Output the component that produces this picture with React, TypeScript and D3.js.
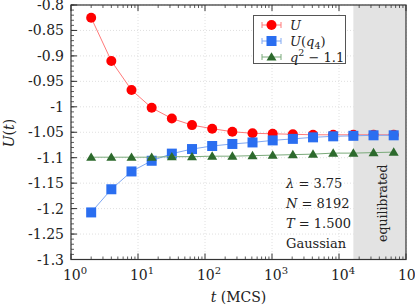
import * as d3 from "d3";

const times = [2, 4, 8, 16, 32, 64, 128, 256, 512, 1024, 2048, 4096, 8192, 16384, 32768, 65536];
const energyU = [-0.825, -0.91, -0.967, -1.002, -1.023, -1.036, -1.043, -1.049, -1.052, -1.053, -1.054, -1.055, -1.055, -1.055, -1.055, -1.055];
const energyQ4 = [-1.2075, -1.162, -1.127, -1.106, -1.092, -1.083, -1.077, -1.073, -1.07, -1.066, -1.063, -1.06, -1.058, -1.057, -1.056, -1.056];
const qSquared = [-1.099, -1.099, -1.099, -1.099, -1.098, -1.098, -1.097, -1.097, -1.096, -1.095, -1.094, -1.093, -1.091, -1.091, -1.09, -1.089];
const yTicks = [-0.8, -0.85, -0.9, -0.95, -1, -1.05, -1.1, -1.15, -1.2, -1.25, -1.3];
const xTicks = [1, 10, 100, 1000, 10000, 100000];
const equilStart = 16384;

const W = 415;
const H = 307;
const left = 71;
const right = 406;
const top = 5;
const bottom = 259.5;

const font = "'DejaVu Serif', serif";

const x = d3.scaleLog().domain([1, 100000]).range([left, right]);
const y = d3.scaleLinear().domain([-1.3, -0.8]).range([bottom, top]);

const RED = "#ff0000";
const BLUE = "#2a6ef0";
const GREEN = "#2d6a2d";

function Marker({ kind, cx, cy }: { kind: string; cx: number; cy: number }) {
  if (kind === "circle") return <circle cx={cx} cy={cy} r={5} fill={RED} />;
  if (kind === "square")
    return <rect x={cx - 5} y={cy - 5} width={10} height={10} fill={BLUE} />;
  return (
    <path
      d={`M${cx},${cy - 4.8}L${cx + 5},${cy + 3.6}L${cx - 5},${cy + 3.6}Z`}
      fill={GREEN}
    />
  );
}

const series = [
  { vals: energyU, kind: "circle", color: RED, line: "#ff7a7a" },
  { vals: energyQ4, kind: "square", color: BLUE, line: "#80a8f2" },
  { vals: qSquared, kind: "triangle", color: GREEN, line: "#7aaa7a" },
];

export default function App() {
  const line = d3
    .line<number>()
    .x((_, i) => x(times[i]))
    .y((d) => y(d));

  const minorX: number[] = [];
  for (let p = 0; p < 5; p++)
    for (let k = 2; k <= 9; k++) minorX.push(k * Math.pow(10, p));
  const minorY = d3.range(-1.3, -0.7999, 0.01);

  return (
    <svg
      width={W}
      height={H}
      style={{ position: "absolute", left: 0, top: 0, fontFamily: font }}
    >
      <rect width={W} height={H} fill="#fff" />
      {/* grid */}
      {yTicks.map((t) => (
        <line key={"gy" + t} x1={left} x2={right} y1={y(t)} y2={y(t)} stroke="#d8d8d8" strokeDasharray="1,2" strokeWidth={0.8} />
      ))}
      {xTicks.map((t) => (
        <line key={"gx" + t} x1={x(t)} x2={x(t)} y1={top} y2={bottom} stroke="#d8d8d8" strokeDasharray="1,2" strokeWidth={0.8} />
      ))}
      {/* equilibrated region */}
      <rect x={x(equilStart)} y={top} width={right - x(equilStart)} height={bottom - top} fill="#e3e3e3" />
      <text
        transform={`translate(${x(equilStart) + 34},${(top + bottom) / 2 + 71}) rotate(-90)`}
        fontSize={12.5}
        textAnchor="middle"
        fill="#222"
      >
        equilibrated
      </text>

      {/* ticks */}
      {minorY.map((t, i) => (
        <line key={"my" + i} x1={left} x2={left + 3} y1={y(t)} y2={y(t)} stroke="#333" strokeWidth={0.8} />
      ))}
      {yTicks.map((t) => (
        <line key={"ty" + t} x1={left} x2={left + 6} y1={y(t)} y2={y(t)} stroke="#333" strokeWidth={1} />
      ))}
      {minorX.map((t) => (
        <g key={"mx" + t}>
          <line x1={x(t)} x2={x(t)} y1={bottom} y2={bottom - 3} stroke="#333" strokeWidth={0.8} />
          <line x1={x(t)} x2={x(t)} y1={top} y2={top + 3} stroke="#333" strokeWidth={0.8} />
        </g>
      ))}
      {xTicks.map((t) => (
        <g key={"tx" + t}>
          <line x1={x(t)} x2={x(t)} y1={bottom} y2={bottom - 6} stroke="#333" strokeWidth={1} />
          <line x1={x(t)} x2={x(t)} y1={top} y2={top + 6} stroke="#333" strokeWidth={1} />
        </g>
      ))}
      <rect x={left} y={top} width={right - left} height={bottom - top} fill="none" stroke="#333" strokeWidth={1.2} />

      {/* tick labels */}
      {yTicks.map((t) => (
        <text key={"ly" + t} x={left - 7} y={y(t) + 5} fontSize={14} textAnchor="end" fill="#222">
          {t === -1 ? "-1" : String(t)}
        </text>
      ))}
      {xTicks.map((t) => (
        <text key={"lx" + t} x={x(t) + 4} y={bottom + 20} fontSize={14} textAnchor="middle" fill="#222">
          10<tspan dy={-6} fontSize={10}>{Math.round(Math.log10(t))}</tspan>
        </text>
      ))}

      {/* axis titles */}
      <text x={(left + right) / 2} y={H - 5} fontSize={14} textAnchor="middle" fill="#222">
        <tspan fontStyle="italic">t</tspan> (MCS)
      </text>
      <text transform={`translate(14,133) rotate(-90)`} fontSize={14} textAnchor="middle" fill="#222">
        <tspan fontStyle="italic">U</tspan>(<tspan fontStyle="italic">t</tspan>)
      </text>

      {/* series */}
      {series.map((s) => (
        <g key={s.kind}>
          <path d={line(s.vals) ?? ""} fill="none" stroke={s.line} strokeWidth={1} />
          {s.vals.map((v, i) => (
            <Marker key={i} kind={s.kind} cx={x(times[i])} cy={y(v)} />
          ))}
        </g>
      ))}

      {/* legend */}
      <rect x={253.5} y={15.5} width={92} height={48} fill="#fff" stroke="#555" strokeWidth={1} />
      {series.map((s, i) => {
        const ly = 25 + i * 16;
        return (
          <g key={"lg" + s.kind}>
            <line x1={262} x2={281} y1={ly} y2={ly} stroke={s.line} strokeWidth={1} />
            <line x1={262} x2={262} y1={ly - 3} y2={ly + 3} stroke={s.line} strokeWidth={1} />
            <line x1={281} x2={281} y1={ly - 3} y2={ly + 3} stroke={s.line} strokeWidth={1} />
            <Marker kind={s.kind} cx={271.5} cy={ly} />
          </g>
        );
      })}
      <text x={290} y={30} fontSize={13} fill="#222">
        <tspan fontStyle="italic">U</tspan>
      </text>
      <text x={290} y={46} fontSize={13} fill="#222">
        <tspan fontStyle="italic">U</tspan>(<tspan fontStyle="italic">q</tspan><tspan dy={3} fontSize={9.5}>4</tspan><tspan dy={-3}>)</tspan>
      </text>
      <text x={290} y={62} fontSize={13} fill="#222">
        <tspan fontStyle="italic">q</tspan><tspan dy={-6} fontSize={9.5}>2</tspan><tspan dy={6}> − 1.1</tspan>
      </text>

      {/* parameters */}
      <text x={286} y={188} fontSize={13} fill="#222">
        <tspan fontStyle="italic">λ</tspan> = 3.75
      </text>
      <text x={286} y={208} fontSize={13} fill="#222">
        <tspan fontStyle="italic">N</tspan> = 8192
      </text>
      <text x={286} y={228} fontSize={13} fill="#222">
        <tspan fontStyle="italic">T</tspan> = 1.500
      </text>
      <text x={286} y={248} fontSize={13} fill="#222">
        Gaussian
      </text>
    </svg>
  );
}
